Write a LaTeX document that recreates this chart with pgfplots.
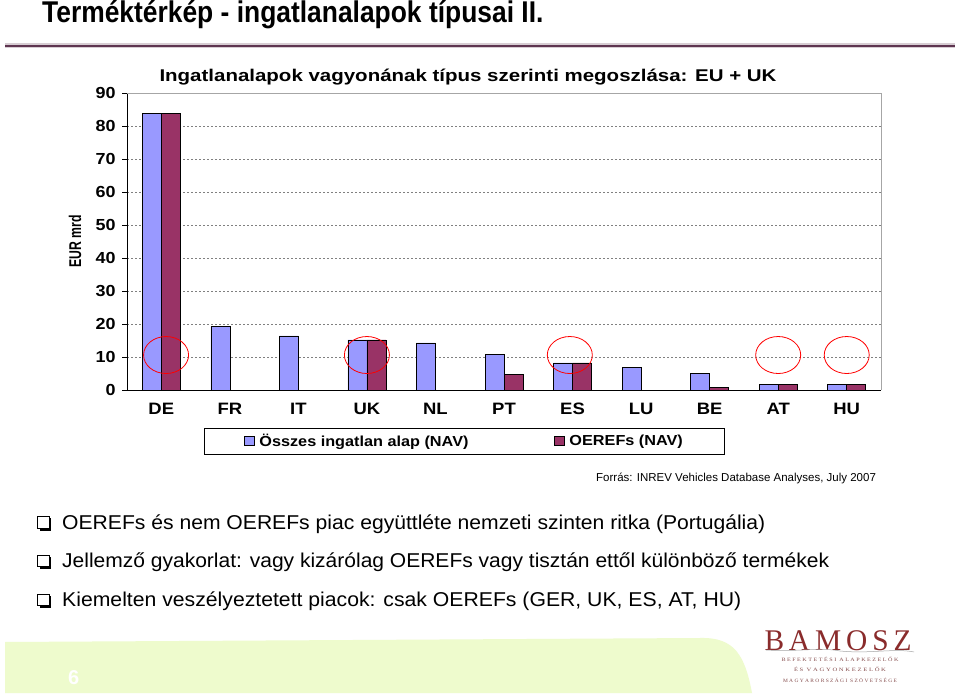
\documentclass[border=0pt]{standalone}
\usepackage{fontspec}
\setmainfont{Liberation Sans}
\newfontfamily\narrowfont{Liberation Sans}[FakeStretch=0.88]
\newfontfamily\ylabfont{Liberation Sans}[FakeStretch=0.72]
\newfontfamily\widefont{Liberation Sans}[FakeStretch=1.12]
\newfontfamily\seriffont{Liberation Serif}
\usepackage{pgfplots}
\pgfplotsset{compat=1.18}
\definecolor{navblue}{HTML}{9999FF}
\definecolor{oerefred}{HTML}{993366}
\definecolor{titleline}{HTML}{5E3550}
\definecolor{bandgreen}{HTML}{EEFBCD}
\definecolor{logored}{HTML}{8A2B2B}
\definecolor{gridgray}{HTML}{808080}
\begin{document}
\begin{tikzpicture}[x=1pt,y=1pt]
\useasboundingbox (0,0) rectangle (960,696);
\fill[white] (0,0) rectangle (960,696);
% slide title
\node[anchor=base west, inner sep=0] at (42,673) {\narrowfont\bfseries\fontsize{30}{32}\selectfont Terméktérkép - ingatlanalapok típusai II.};
\draw[titleline!25, line width=5pt] (5,650) -- (955,650);
\draw[titleline, line width=2.6pt] (5,650) -- (955,650);
% chart title
\node[anchor=center, inner sep=0] at (468,619) {\resizebox{617pt}{\height}{\bfseries\fontsize{17}{19}\selectfont Ingatlanalapok vagyonának típus szerinti megoszlása: EU + UK}};
\begin{axis}[
  at={(127pt,306pt)}, anchor=south west,
  scale only axis, width=754pt, height=297pt,
  xmin=-0.5, xmax=10.5, ymin=0, ymax=90,
  ybar=0pt, bar width=19pt,
  axis x line*=bottom, axis y line*=left,
  axis line style={black, line width=0.8pt},
  xtick={0,...,10},
  xticklabels={DE,FR,IT,UK,NL,PT,ES,LU,BE,AT,HU},
  x tick style={draw=none},
  extra x ticks={-0.5,0.5,1.5,2.5,3.5,4.5,5.5,6.5,7.5,8.5,9.5,10.5},
  extra x tick labels={},
  extra x tick style={tick align=outside, major tick length=5pt, grid=none, tick style={draw=black, line width=0.6pt}},
  ytick={0,10,...,90},
  y tick style={black, line width=0.6pt},
  tick align=outside, major tick length=5pt,
  ymajorgrids,
  grid style={gridgray, line width=0.8pt, dash pattern=on 2pt off 2pt},
  /pgf/number format/assume math mode=true,
  xticklabel style={font=\widefont\bfseries\fontsize{16.5}{18}\selectfont, anchor=north, text height=12pt, text depth=0pt, yshift=-4pt},
  yticklabel style={font=\widefont\bfseries\fontsize{16}{18}\selectfont, xshift=-3pt},
  ylabel={\ylabfont\bfseries\fontsize{17}{19}\selectfont EUR mrd},
  y label style={at={(axis description cs:-0.0688,0.5)}, anchor=center},
  legend columns=2,
  legend style={at={(axis description cs:0.4478,-0.1717)}, anchor=center,
    draw=black, line width=0.8pt, inner xsep=40pt, inner ysep=4pt,
    font=\widefont\bfseries\fontsize{14.5}{16}\selectfont,
    /tikz/every even column/.append style={column sep=84pt}},
  legend image code/.code={\draw[#1, draw=black, line width=0.5pt] (0pt,-4.5pt) rectangle (9.5pt,5pt);},
  clip=false,
]
\addplot[fill=navblue, draw=black, line width=0.6pt] coordinates {
  (0,83.7) (1,19.2) (2,16.4) (3,15.2) (4,14.3) (5,10.9) (6,8.2) (7,6.8) (8,5.0) (9,1.8) (10,1.8)};
\addlegendentry{\hspace{3pt}Összes ingatlan alap (NAV)}
\addplot[fill=oerefred, draw=black, line width=0.6pt] coordinates {
  (0,83.7) (3,15.2) (5,4.8) (6,8.2) (8,0.7) (9,1.8) (10,1.8)};
\addlegendentry{\hspace{3pt}OEREFs (NAV)}
\draw[gridgray!70, line width=0.8pt] (rel axis cs:0,1) -- (rel axis cs:1,1) -- (rel axis cs:1,0);
\draw[red, line width=0.8pt] (axis cs:0.07,10.6) ellipse [x radius=22.5pt, y radius=18.5pt];
\draw[red, line width=0.8pt] (axis cs:3.0,10.6) ellipse [x radius=22.5pt, y radius=18.5pt];
\draw[red, line width=0.8pt] (axis cs:5.96,10.6) ellipse [x radius=22.5pt, y radius=18.5pt];
\draw[red, line width=0.8pt] (axis cs:9.0,10.6) ellipse [x radius=22.5pt, y radius=18.5pt];
\draw[red, line width=0.8pt] (axis cs:10.0,10.6) ellipse [x radius=22.5pt, y radius=18.5pt];
\end{axis}
% source
\node[anchor=base west, inner sep=0] at (596,214) {\fontsize{11.5}{13}\selectfont Forrás: INREV Vehicles Database Analyses, July 2007};
% bullets
\foreach \b/\w/\t in {167/703/{OEREFs és nem OEREFs piac együttléte nemzeti szinten ritka (Portugália)},
                      129/767/{Jellemző gyakorlat: vagy kizárólag OEREFs vagy tisztán ettől különböző termékek},
                      90/679/{Kiemelten veszélyeztetett piacok: csak OEREFs (GER, UK, ES, AT, HU)}}{
  \fill[black] (39.5,\b-1.5) rectangle (51,\b+10.5);
  \filldraw[fill=white, draw=black, line width=1pt] (37.5,\b+0.5) rectangle (49,\b+12);
  \node[anchor=base west, inner sep=0] at (62,\b) {\resizebox{\w pt}{\height}{\fontsize{20}{24}\selectfont \t}};
}
% bottom band
\fill[bandgreen] (5,54) -- (700,58) .. controls (735,59) and (745,40) .. (752,3) -- (5,3) -- cycle;
\node[anchor=base west, inner sep=0, text=white] at (68,12) {\bfseries\fontsize{20}{22}\selectfont 6};
% logo
\node[anchor=base, inner sep=0, text=logored] at (838,46) {\resizebox{147pt}{\height}{\seriffont\fontsize{30}{34}\selectfont B\,A\,M\,O\,S\,Z}};
\draw[gray!70, line width=0.5pt] (766,46) .. controls (800,44) and (820,49) .. (840,45) .. controls (870,42) and (895,48) .. (914,44);
\node[anchor=center, inner sep=0, text=logored!60!gray] at (840,37) {\resizebox{117pt}{\height}{\seriffont\fontsize{5}{6}\selectfont B E F E K T E T É S I\ \ A L A P K E Z E L Ő K}};
\node[anchor=center, inner sep=0, text=logored!60!gray] at (840,27) {\resizebox{92pt}{\height}{\seriffont\fontsize{5}{6}\selectfont É S\ \ V A G Y O N K E Z E L Ő K}};
\node[anchor=center, inner sep=0, text=logored!60!gray] at (840,16) {\resizebox{114pt}{\height}{\seriffont\fontsize{5}{6}\selectfont M A G Y A R O R S Z Á G I\ \ S Z Ö V E T S É G E}};
\end{tikzpicture}
\end{document}
